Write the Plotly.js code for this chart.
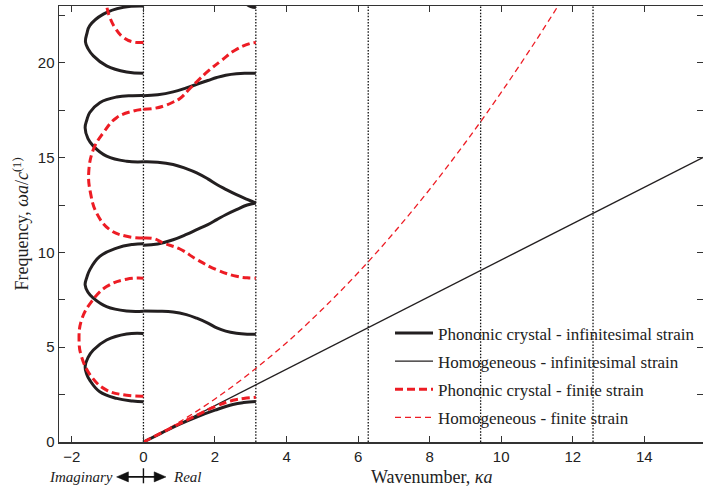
<!DOCTYPE html>
<html>
<head>
<meta charset="utf-8">
<script src="https://cdn.plot.ly/plotly-3.0.1.min.js"></script>
<style>html,body{margin:0;padding:0;background:#fff;}#chart{width:703px;height:489px;}</style>
</head>
<body>
<div id="chart"></div>
<script>
// ---- Data ----
const PI = Math.PI;
// Homogeneous - infinitesimal strain (straight line)
const homInfX = [0, 15.7];
const homInfY = [0, 15.07];
// Homogeneous - finite strain
const homFinX = [0, 1, 2, 3, 4, 5, 6, 7, 8, 9, 10, 11, 11.7];
const homFinY = [0, 1.05, 2.27, 3.67, 5.24, 7.0, 8.93, 11.04, 13.33, 15.8, 18.44, 21.26, 23.34];

// Phononic crystal - infinitesimal strain (real branches)
const pcInfBand1X = [0, 0.5, 1, 1.5, 2, 2.5, 2.8, PI];
const pcInfBand1Y = [0, 0.47, 0.93, 1.33, 1.68, 1.98, 2.08, 2.13];
const bandGridX = [0, 0.4, 0.83, 1.2, 1.49, 1.8, 2.05, 2.3, 2.6, 2.9, PI];
const pcInfBand2Y = [6.91, 6.9, 6.86, 6.72, 6.53, 6.27, 6.02, 5.85, 5.74, 5.69, 5.68];
const pcInfBand3Y = [10.38, 10.45, 10.67, 10.95, 11.2, 11.47, 11.73, 11.99, 12.26, 12.5, 12.61];
const pcInfBand4Y = [14.78, 14.76, 14.64, 14.42, 14.2, 13.88, 13.58, 13.33, 13.05, 12.8, 12.61];
const pcInfBand5Y = [18.27, 18.32, 18.47, 18.68, 18.87, 19.07, 19.23, 19.35, 19.43, 19.45, 19.45];
const pcInfBand6X = [2.8, 3.0, PI];
const pcInfBand6Y = [23.2, 22.97, 22.92];
// Phononic crystal - infinitesimal strain (imaginary loops)
const pcInfLoop1X = [0, -0.47, -1.03, -1.4, -1.55, -1.63, -1.58, -1.5, -1.22, -0.75, -0.3, 0];
const pcInfLoop1Y = [5.73, 5.70, 5.38, 4.85, 4.45, 3.97, 3.55, 3.26, 2.65, 2.3, 2.16, 2.12];
const pcInfLoop2X = [0, -0.47, -1.03, -1.4, -1.55, -1.63, -1.58, -1.5, -1.22, -0.75, -0.3, 0];
const pcInfLoop2Y = [6.9, 6.91, 7.14, 7.59, 7.9, 8.29, 8.7, 9.08, 9.79, 10.23, 10.42, 10.46];
const pcInfLoop3X = [0, -0.47, -1.03, -1.4, -1.55, -1.63, -1.58, -1.5, -1.22, -0.75, -0.3, 0];
const pcInfLoop3Y = [14.78, 14.81, 15.08, 15.61, 16.0, 16.58, 17.0, 17.38, 17.9, 18.2, 18.27, 18.28];
const pcInfLoop4X = [0, -0.47, -1.03, -1.4, -1.55, -1.62, -1.58, -1.5, -1.12, -0.56, 0];
const pcInfLoop4Y = [19.45, 19.52, 19.84, 20.37, 20.75, 21.11, 21.55, 21.96, 22.57, 22.93, 23.0];

// Phononic crystal - finite strain
const pcFinBand1X = [0, 0.5, 1, 1.5, 2, 2.5, 2.8, PI];
const pcFinBand1Y = [0, 0.48, 0.96, 1.42, 1.87, 2.2, 2.3, 2.36];
const pcFinLoop1X = [0, -0.47, -1.03, -1.45, -1.73, -1.8, -1.73, -1.45, -1.03, -0.47, 0];
const pcFinLoop1Y = [2.42, 2.47, 2.74, 3.44, 4.5, 5.38, 6.44, 7.41, 8.2, 8.59, 8.64];
const pcFinBand2X = [0, 0.3, 0.55, 1.02, 1.49, 2.05, 2.6, 2.9, PI];
const pcFinBand2Y = [10.76, 10.72, 10.5, 10.18, 9.63, 9.08, 8.74, 8.66, 8.64];
const pcFinLoop2X = [0, -0.47, -0.94, -1.31, -1.48, -1.53, -1.4, -1.12, -0.75, -0.28, 0];
const pcFinLoop2Y = [10.76, 10.85, 11.2, 12.08, 13.14, 14.2, 15.43, 16.32, 17.11, 17.46, 17.55];
const pcFinBand3X = [0, 0.3, 0.56, 0.85, 1.02, 1.3, 1.53, 1.83, 2.19, 2.56, 2.98, PI];
const pcFinBand3Y = [17.55, 17.6, 17.72, 17.95, 18.12, 18.65, 19.08, 19.6, 20.14, 20.67, 21.02, 21.08];
const pcFinLoop3X = [0, -0.28, -0.56, -0.8, -0.94, -1.01, -1.05];
const pcFinLoop3Y = [21.08, 21.1, 21.34, 21.87, 22.4, 22.84, 23.3];

// Vertical dotted reference lines (multiples of pi)
const dottedX = [0, PI, 2 * PI, 3 * PI, 4 * PI];

// Tick values
const xTicks = [-2, 0, 2, 4, 6, 8, 10, 12, 14];
const yTicks = [0, 5, 10, 15, 20];

const seriesNames = [
  'Phononic crystal - infinitesimal strain',
  'Homogeneous - infinitesimal strain',
  'Phononic crystal - finite strain',
  'Homogeneous - finite strain'
];

// ---- helpers: join segments with gaps ----
function joinSegs(segs) {
  const x = [], y = [];
  segs.forEach((s, i) => {
    if (i > 0) { x.push(null); y.push(null); }
    x.push(...s[0]); y.push(...s[1]);
  });
  return {x, y};
}

const pcInf = joinSegs([
  [pcInfBand1X, pcInfBand1Y], [bandGridX, pcInfBand2Y], [bandGridX, pcInfBand3Y],
  [bandGridX, pcInfBand4Y], [bandGridX, pcInfBand5Y], [pcInfBand6X, pcInfBand6Y],
  [pcInfLoop1X, pcInfLoop1Y], [pcInfLoop2X, pcInfLoop2Y], [pcInfLoop3X, pcInfLoop3Y],
  [pcInfLoop4X, pcInfLoop4Y]
]);
const pcFin = joinSegs([
  [pcFinBand1X, pcFinBand1Y], [pcFinLoop1X, pcFinLoop1Y], [pcFinBand2X, pcFinBand2Y],
  [pcFinLoop2X, pcFinLoop2Y], [pcFinBand3X, pcFinBand3Y], [pcFinLoop3X, pcFinLoop3Y]
]);

const BLACK = '#231f20';
const RED = '#ed1c24';

const traces = [
  {x: homInfX, y: homInfY, mode: 'lines', name: seriesNames[1], legendgroup: 'b', legendrank: 2,
   line: {color: BLACK, width: 1.3}},
  {x: homFinX, y: homFinY, mode: 'lines', name: seriesNames[3], legendgroup: 'd', legendrank: 4,
   line: {color: RED, width: 1.3, dash: '6px,4px', shape: 'spline'}},
  {x: pcInf.x, y: pcInf.y, mode: 'lines', name: seriesNames[0], legendgroup: 'a', legendrank: 1,
   connectgaps: false, line: {color: BLACK, width: 3, shape: 'spline', smoothing: 1.2}},
  {x: pcFin.x, y: pcFin.y, mode: 'lines', name: seriesNames[2], legendgroup: 'c', legendrank: 3,
   connectgaps: false, line: {color: RED, width: 3, dash: '8px,4px', shape: 'spline', smoothing: 1.2}}
];

// Imaginary <-> Real indicator below the axis (x in data units, y in paper units)
const indY = -0.08, headH = 0.0115;
const shapes = dottedX.map(v => ({
  type: 'line', xref: 'x', yref: 'paper', x0: v, x1: v, y0: 0, y1: 1, layer: 'below',
  line: {color: '#111', width: 1.3, dash: '1.5px,1.6px'}
})).concat([
  {type: 'line', xref: 'x', yref: 'paper', x0: -0.5, x1: 0.4, y0: indY, y1: indY,
   line: {color: '#111', width: 1.6}},
  {type: 'line', xref: 'x', yref: 'paper', x0: 0, x1: 0, y0: -0.0603, y1: -0.0947,
   line: {color: '#111', width: 1.4}},
  {type: 'path', xref: 'x', yref: 'paper', fillcolor: '#111', line: {color: '#111', width: 0.5},
   path: `M -0.75 ${indY} L -0.42 ${indY + headH} L -0.42 ${indY - headH} Z`},
  {type: 'path', xref: 'x', yref: 'paper', fillcolor: '#111', line: {color: '#111', width: 0.5},
   path: `M 0.63 ${indY} L 0.30 ${indY + headH} L 0.30 ${indY - headH} Z`}
]);

const serif = 'Liberation Serif, Times New Roman, serif';
const sans = 'Liberation Sans, Arial, sans-serif';

const layout = {
  width: 703, height: 489,
  margin: {l: 59, r: 0, t: 6, b: 47},
  paper_bgcolor: '#fff', plot_bgcolor: '#fff',
  showlegend: true,
  legend: {
    x: 0.514, y: 0.29, xanchor: 'left', yanchor: 'top',
    bgcolor: 'rgba(0,0,0,0)', borderwidth: 0,
    font: {family: serif, size: 17, color: '#222'},
    traceorder: 'grouped', tracegroupgap: 3, itemwidth: 38
  },
  xaxis: {
    range: [-2.36, 15.64], tickvals: xTicks, ticks: 'inside', ticklen: 6, tickwidth: 1,
    tickcolor: '#333', showline: true, linecolor: '#333', linewidth: 1.5, mirror: 'ticks',
    showgrid: false, zeroline: false, tickfont: {family: sans, size: 15, color: '#222'}
  },
  yaxis: {
    range: [0, 23], tickvals: yTicks, ticks: 'inside', ticklen: 6, tickwidth: 1,
    tickcolor: '#333', showline: true, linecolor: '#333', linewidth: 1.5, mirror: 'ticks',
    showgrid: false, zeroline: false, tickfont: {family: sans, size: 15, color: '#222'},
    minor: {dtick: 2.5, tick0: 0, ticks: 'inside', ticklen: 6, tickwidth: 1, tickcolor: '#333', showgrid: false},
    title: {text: 'Frequency, <i>ωa</i>/<i>c</i><sup>(1)</sup>', standoff: 4,
            font: {family: serif, size: 18, color: '#222'}}
  },
  shapes: shapes,
  annotations: [
    {xref: 'x', yref: 'paper', x: 8.04, y: -0.081, text: 'Wavenumber, <i>κa</i>', showarrow: false,
     xanchor: 'center', yanchor: 'middle', font: {family: serif, size: 18, color: '#222'}},
    {xref: 'x', yref: 'paper', x: -0.8, y: indY, text: '<i>Imaginary</i>', showarrow: false,
     xanchor: 'right', yanchor: 'middle', font: {family: serif, size: 15, color: '#222'}},
    {xref: 'x', yref: 'paper', x: 0.77, y: indY, text: '<i>Real</i>', showarrow: false,
     xanchor: 'left', yanchor: 'middle', font: {family: serif, size: 15, color: '#222'}}
  ]
};

Plotly.newPlot('chart', traces, layout, {displayModeBar: false, staticPlot: true});
</script>
</body>
</html>
